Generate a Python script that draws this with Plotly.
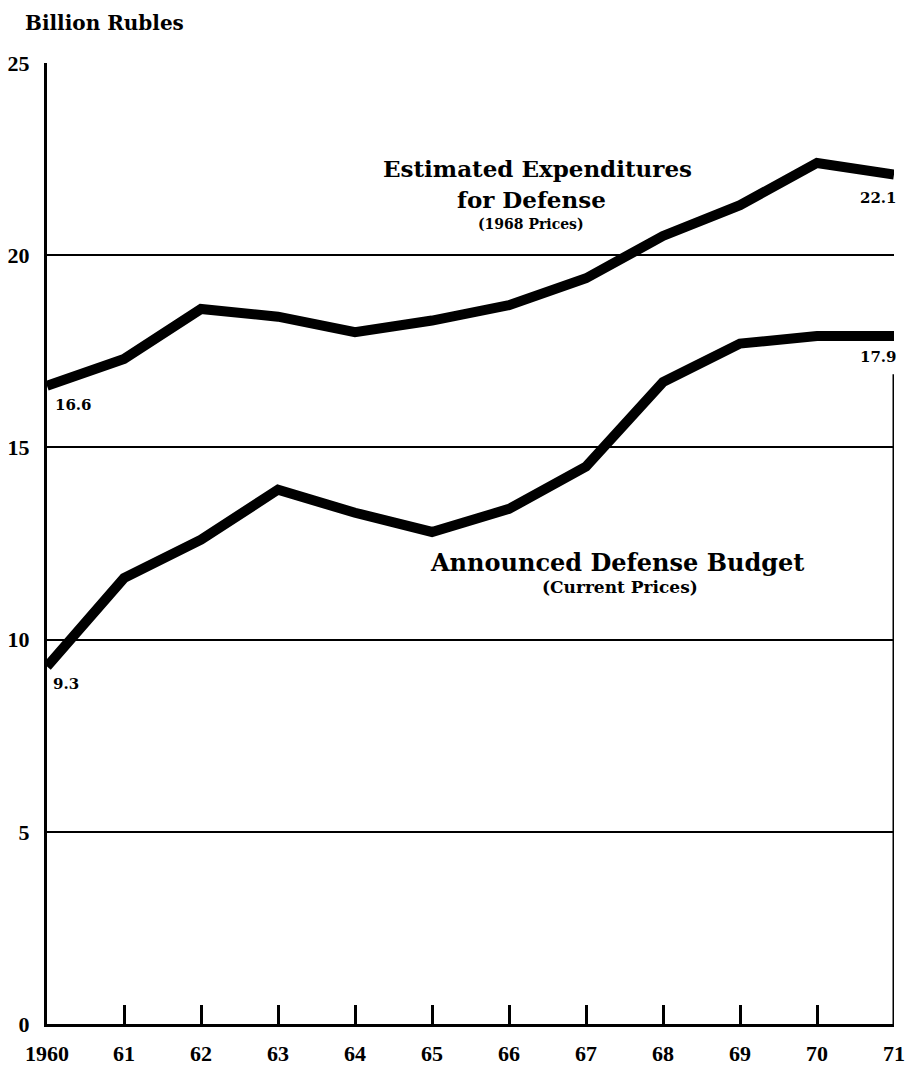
import plotly.graph_objects as go

years = list(range(1960, 1972))
estimated = [16.6, 17.3, 18.6, 18.4, 18.0, 18.3, 18.7, 19.4, 20.5, 21.3, 22.4, 22.1]
announced = [9.3, 11.6, 12.6, 13.9, 13.3, 12.8, 13.4, 14.5, 16.7, 17.7, 17.9, 17.9]
tick_years = years
tick_text = ["1960"] + [str(y)[2:] for y in years[1:]]
y_ticks = [0, 5, 10, 15, 20, 25]

SERIF = "DejaVu Serif"
NUM = "Liberation Serif"

fig = go.Figure()
fig.add_trace(go.Scatter(x=years, y=estimated, mode="lines",
                         line=dict(color="black", width=10), hoverinfo="skip"))
fig.add_trace(go.Scatter(x=years, y=announced, mode="lines",
                         line=dict(color="black", width=10), hoverinfo="skip"))

annotations = [
    dict(text="<b>Estimated Expenditures</b>", x=1966.37, y=22.25, font=dict(family=SERIF, size=23)),
    dict(text="<b>for Defense</b>", x=1966.29, y=21.46, font=dict(family=SERIF, size=23)),
    dict(text="<b>(1968 Prices)</b>", x=1966.29, y=20.82, font=dict(family=SERIF, size=14)),
    dict(text="<b>Announced Defense Budget</b>", x=1967.40, y=12.0, font=dict(family=SERIF, size=24)),
    dict(text="<b>(Current Prices)</b>", x=1967.44, y=11.36, font=dict(family=SERIF, size=17)),
    dict(text="<b>16.6</b>", x=years[0], y=estimated[0] - 0.5, xanchor="left", xshift=6,
         font=dict(family=SERIF, size=15)),
    dict(text="<b>9.3</b>", x=years[0], y=announced[0] - 0.45, xanchor="left", xshift=4,
         font=dict(family=SERIF, size=15)),
    dict(text="<b>22.1</b>", x=years[-1], y=estimated[-1] - 0.6, xanchor="right", xshift=5,
         font=dict(family=SERIF, size=15)),
    dict(text="<b>17.9</b>", x=years[-1], y=announced[-1] - 0.55, xanchor="right", xshift=5,
         font=dict(family=SERIF, size=15)),
]
for a in annotations:
    a.setdefault("xanchor", "center")
    a["yanchor"] = "middle"
    a["showarrow"] = False
    a["font"]["color"] = "black"
    fig.add_annotation(**a)

fig.add_annotation(text="<b>Billion Rubles</b>", xref="paper", yref="paper",
                   x=0, y=1.0, xshift=-24, yshift=40, xanchor="left", yanchor="middle",
                   showarrow=False, font=dict(family=SERIF, size=20, color="black"))

# right frame segment and small gap in the 20 grid line
fig.add_shape(type="line", x0=years[-1], x1=years[-1], y0=0, y1=16.9,
              line=dict(color="black", width=3))
fig.add_shape(type="line", x0=1969.70, x1=1969.89, y0=20, y1=20, layer="below",
              line=dict(color="white", width=5))

fig.update_layout(
    width=906, height=1076,
    margin=dict(l=47, r=12, t=63, b=52),
    paper_bgcolor="white", plot_bgcolor="white",
    showlegend=False,
    xaxis=dict(range=[1960, 1971], tickvals=tick_years, ticktext=tick_text,
               ticks="inside", ticklen=19, tickwidth=2.5, tickcolor="black",
               showgrid=False, zeroline=False, showline=True, linecolor="black",
               linewidth=3, tickfont=dict(family=NUM, size=22, color="black", weight="bold"),
               ticklabelstandoff=8, ticklabeloverflow="allow", automargin=False),
    yaxis=dict(range=[0, 25], tickvals=y_ticks, showgrid=True, gridcolor="black",
               gridwidth=2, zeroline=False, showline=True, linecolor="black",
               linewidth=3, ticks="", tickfont=dict(family=NUM, size=22, color="black", weight="bold"),
               ticklabelstandoff=10, automargin=False),
)

fig.write_html("out.html", config={"displayModeBar": False},
               post_script="document.body.style.margin='0';")
